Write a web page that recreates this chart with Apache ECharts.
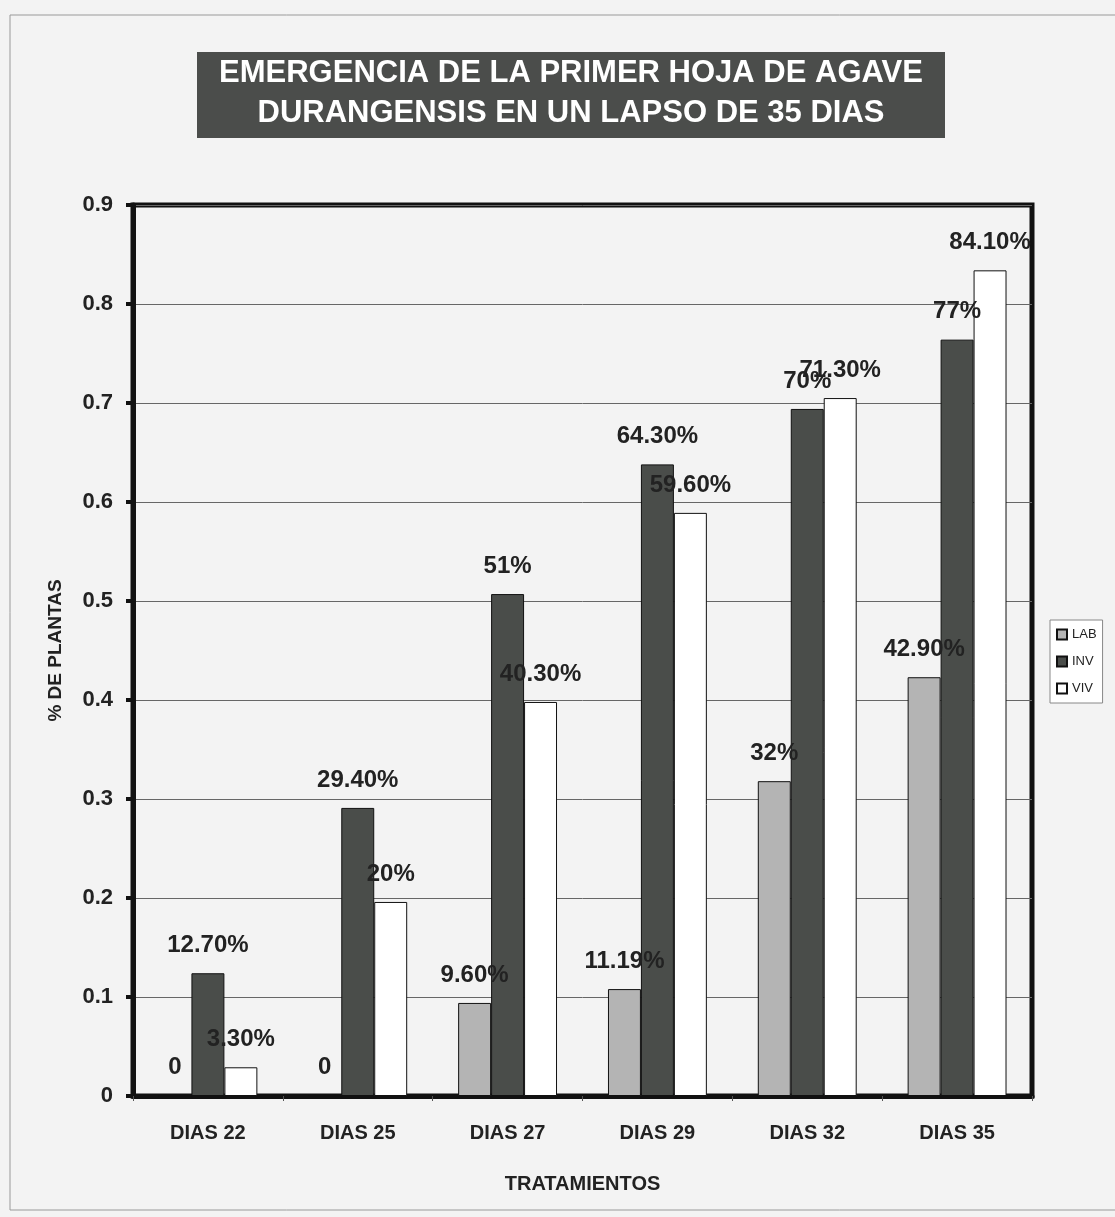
<!DOCTYPE html>
<html>
<head>
<meta charset="utf-8">
<script src="https://cdn.jsdelivr.net/npm/echarts@6/dist/echarts.min.js"></script>
<style>
  html, body { margin: 0; padding: 0; background: #f3f3f3; }
  #main { width: 1115px; height: 1217px; }
</style>
</head>
<body>
<div id="main"></div>
<script>
// categories and series (bar heights, labels as printed)
var categories = ['DIAS 22', 'DIAS 25', 'DIAS 27', 'DIAS 29', 'DIAS 32', 'DIAS 35'];
var labValues = [0, 0, 0.094, 0.108, 0.318, 0.423];
var invValues = [0.124, 0.291, 0.507, 0.638, 0.694, 0.764];
var vivValues = [0.029, 0.196, 0.398, 0.589, 0.705, 0.834];
var labLabels = ['0', '0', '9.60%', '11.19%', '32%', '42.90%'];
var invLabels = ['12.70%', '29.40%', '51%', '64.30%', '70%', '77%'];
var vivLabels = ['3.30%', '20%', '40.30%', '59.60%', '71.30%', '84.10%'];

var chart = echarts.init(document.getElementById('main'));

function barSeries(name, values, labels, color) {
  return {
    name: name,
    type: 'bar',
    data: values,
    barGap: '0%',
    barCategoryGap: '34%',
    itemStyle: { color: color, borderColor: '#111', borderWidth: 1 },
    label: {
      show: true,
      position: 'top',
      distance: 16,
      formatter: function (p) { return labels[p.dataIndex]; },
      fontFamily: 'Liberation Sans, Arial, sans-serif',
      fontWeight: 'bold',
      fontSize: 24,
      color: '#222'
    }
  };
}

var option = {
  backgroundColor: '#f3f3f3',
  animation: false,
  graphic: [
    {
      type: 'rect',
      shape: { x: 10, y: 15, width: 1110, height: 1195 },
      style: { fill: 'none', stroke: '#999', lineWidth: 1 },
      silent: true
    },
    {
      type: 'rect',
      shape: { x: 197, y: 52, width: 748, height: 86 },
      style: { fill: '#4b4d4b' },
      silent: true
    },
    {
      type: 'text',
      x: 571,
      y: 93,
      style: {
        text: 'EMERGENCIA DE LA PRIMER HOJA DE AGAVE\nDURANGENSIS EN UN LAPSO DE 35 DIAS',
        fill: '#fff',
        font: 'bold 31px "Liberation Sans", Arial, sans-serif',
        lineHeight: 40,
        textAlign: 'center',
        textVerticalAlign: 'middle'
      },
      silent: true
    }
  ],
  legend: {
    orient: 'vertical',
    left: 1050,
    top: 620,
    icon: 'rect',
    itemWidth: 10,
    itemHeight: 10,
    itemGap: 14,
    padding: [8, 6, 8, 6],
    backgroundColor: '#fff',
    borderColor: '#888',
    borderWidth: 1,
    textStyle: { fontSize: 13, color: '#222', fontFamily: 'Liberation Sans, Arial, sans-serif' },
    data: ['LAB', 'INV', 'VIV']
  },
  grid: {
    left: 133,
    right: 83,
    top: 205,
    bottom: 121,
    show: true,
    borderColor: '#111',
    borderWidth: 5,
    backgroundColor: 'transparent'
  },
  xAxis: {
    type: 'category',
    data: categories,
    name: 'TRATAMIENTOS',
    nameLocation: 'middle',
    nameGap: 78,
    nameTextStyle: {
      fontFamily: 'Liberation Sans, Arial, sans-serif',
      fontWeight: 'bold',
      fontSize: 20,
      color: '#222'
    },
    axisLine: { show: true, lineStyle: { color: '#111', width: 5 } },
    axisTick: { show: true, length: 5, lineStyle: { color: '#555', width: 1 } },
    axisLabel: {
      margin: 27,
      fontFamily: 'Liberation Sans, Arial, sans-serif',
      fontWeight: 'bold',
      fontSize: 20,
      color: '#222'
    }
  },
  yAxis: {
    type: 'value',
    min: 0,
    max: 0.9,
    interval: 0.1,
    name: '% DE PLANTAS',
    nameLocation: 'middle',
    nameGap: 68,
    nameTextStyle: {
      fontFamily: 'Liberation Sans, Arial, sans-serif',
      fontWeight: 'bold',
      fontSize: 19,
      color: '#222'
    },
    axisLine: { show: true, lineStyle: { color: '#111', width: 5 } },
    axisTick: { show: true, length: 7, lineStyle: { color: '#111', width: 4 } },
    axisLabel: {
      margin: 20,
      formatter: function (v) { return v === 0 ? '0' : v.toFixed(1); },
      fontFamily: 'Liberation Sans, Arial, sans-serif',
      fontWeight: 'bold',
      fontSize: 22,
      color: '#222'
    },
    splitLine: { show: true, lineStyle: { color: '#666', width: 1 } }
  },
  series: [
    barSeries('LAB', labValues, labLabels, '#b4b4b4'),
    barSeries('INV', invValues, invLabels, '#4a4d4a'),
    barSeries('VIV', vivValues, vivLabels, '#ffffff')
  ]
};

chart.setOption(option);
</script>
</body>
</html>
